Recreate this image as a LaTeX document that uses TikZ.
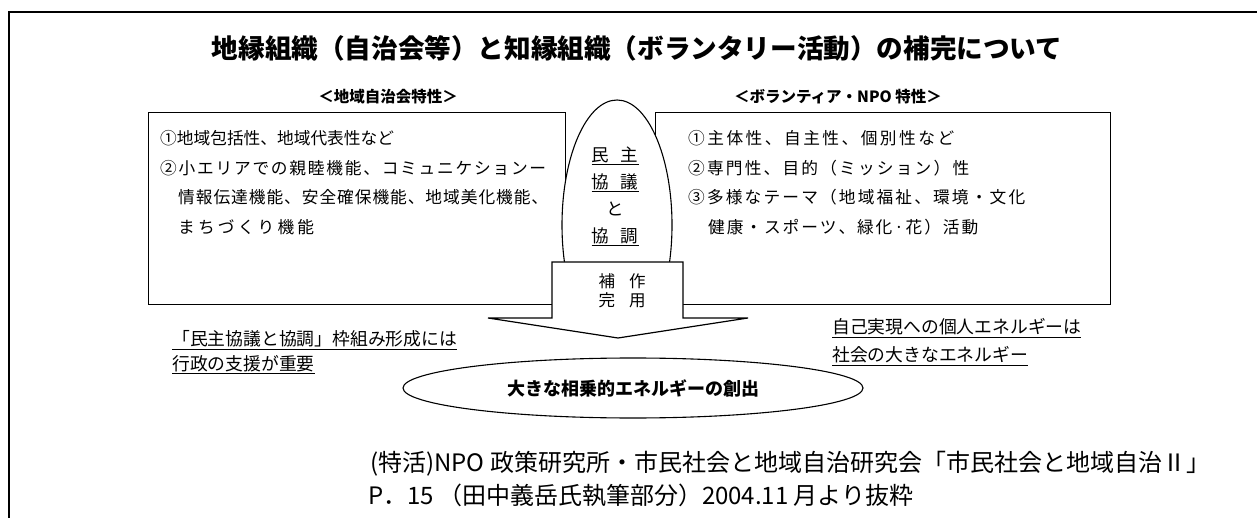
\documentclass[tikz,border=0pt]{standalone}
\usepackage{fontspec}
\usepackage{graphicx}
\usetikzlibrary{shapes.geometric}
\newfontfamily\jp{Noto Sans CJK JP}
% spread the characters of a line evenly over a given width
\def\sprB#1{\ifx#1\relax\else\hfil#1\expandafter\sprB\fi}
\def\sprA#1{#1\sprB}
\newcommand\spreadline[2]{\makebox[#1][s]{\sprA#2\relax}}
\begin{document}
\begin{tikzpicture}[x=1pt,y=-1pt,
  frame/.style={line width=1.8pt},
  panel/.style={draw, line width=1.3pt, inner sep=0pt, anchor=north west},
  txt/.style={anchor=west, inner sep=0pt, font=\jp\fontsize{16.7}{20}\selectfont},
  note/.style={anchor=west, inner sep=0pt, font=\jp\fontsize{17.8}{22}\selectfont},
  foot/.style={anchor=west, inner sep=0pt, font=\jp\fontsize{24}{26}\selectfont},
  sub/.style={inner sep=0pt, font=\jp\bfseries\fontsize{15.5}{18}\selectfont}]
\useasboundingbox (0,0) rectangle (1257,518);
\fill[white] (0,0) rectangle (1257,518);
\coordinate (fTR) at (1257,12);
\coordinate (fTL) at (9,12);
\coordinate (fBL) at (9,518);
\draw[frame] (fTR) -- (fTL) -- (fBL);

\node[font=\jp\bfseries\fontsize{26.6}{30}\selectfont, inner sep=0pt] (title) at (637,48)
  {地縁組織（自治会等）と知縁組織（ボランタリー活動）の補完について};

\node[sub] (subL) at (388,97) {＜地域自治会特性＞};
\node[sub] (subR) at (838,97) {＜ボランティア・NPO 特性＞};

\node[panel, minimum width=417pt, minimum height=192pt] (boxL) at (148,112) {};
\node[panel, minimum width=455pt, minimum height=192pt] (boxR) at (655,112) {};

\node[txt] (l1) at (160,138) {①地域包括性、地域代表性など};
\node[txt] (l2) at (160,168) {\spreadline{386pt}{②小エリアでの親睦機能、コミュニケションー}};
\node[txt] (l3) at (178,197) {\spreadline{370pt}{情報伝達機能、安全確保機能、地域美化機能、}};
\node[txt] (l4) at (178,227) {\spreadline{136pt}{まちづくり機能}};

\node[txt] (r1) at (688,138) {\spreadline{266pt}{①主体性、自主性、個別性など}};
\node[txt] (r2) at (688,168) {\spreadline{281pt}{②専門性、目的（ミッション）性}};
\node[txt] (r3) at (688,197) {\spreadline{337pt}{③多様なテーマ（地域福祉、環境・文化}};
\node[txt] (r4) at (708,227) {\spreadline{270pt}{健康・スポーツ、緑化·花）活動}};

\begin{scope}
  \clip (450,80) rectangle (800,262);
  \node[draw, ellipse, line width=1.1pt, fill=white, minimum width=110pt, minimum height=250pt, inner sep=0pt] (oval) at (617,225) {};
\end{scope}
\node[inner sep=0pt, align=center, font=\jp\fontsize{17.5}{27}\selectfont] (ovaltext) at (615,196)
  {\underline{民\kern12pt 主}\\ \underline{協\kern12pt 議}\\ と\\ \underline{協\kern12pt 調}};

\coordinate (a1) at (552,262);
\coordinate (a2) at (683,262);
\coordinate (a3) at (683,318);
\coordinate (a4) at (748,318);
\coordinate (tip) at (618,338);
\coordinate (a6) at (488,318);
\coordinate (a7) at (552,318);
\draw[line width=1.2pt, fill=white] (a1) -- (a2) -- (a3) -- (a4) -- (tip) -- (a6) -- (a7) -- cycle;
\node[inner sep=0pt, align=center, font=\jp\fontsize{16.5}{18.5}\selectfont] (hokan) at (622,291)
  {補\kern14pt 作\\完\kern14pt 用};

\node[note] (nl1) at (172,340) {\underline{「民主協議と協調」枠組み形成には}};
\node[note] (nl2) at (172,365) {\underline{行政の支援が重要}};
\node[note] (nr1) at (832,328) {\underline{自己実現への個人エネルギーは}};
\node[note] (nr2) at (832,356) {\underline{社会の大きなエネルギー}};

\node[draw, ellipse, line width=1.1pt, minimum width=460pt, minimum height=60pt, inner sep=0pt,
  font=\jp\bfseries\fontsize{18}{20}\selectfont] (energy) at (633,388) {大きな相乗的エネルギーの創出};

\node[foot] (f1) at (370,464) {(特活)NPO 政策研究所・市民社会と地域自治研究会「市民社会と地域自治Ⅱ」};
\node[foot] (f2) at (368,495) {P．15\hspace{4pt}（田中義岳氏執筆部分）2004.11 月より抜粋};
\end{tikzpicture}
\end{document}
